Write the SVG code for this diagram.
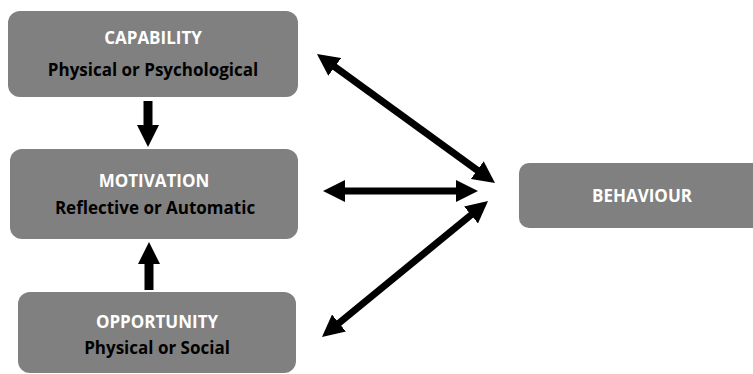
<svg xmlns="http://www.w3.org/2000/svg" width="753" height="374" viewBox="0 0 753 374">
<style>
.box{fill:#808080;}
.t{font-family:"Open Sans","Liberation Sans",sans-serif;font-weight:bold;font-size:17px;text-anchor:middle;}
.w{fill:#ffffff;}
.k{fill:#000000;}
.c line{stroke:#000;stroke-width:7;}
.c line.v{stroke-width:9;}
</style>
<defs>
<marker id="ah" viewBox="0 0 22 22" markerWidth="22" markerHeight="22" markerUnits="userSpaceOnUse" refX="8" refY="11" orient="auto-start-reverse">
<path d="M0,0 L22,11 L0,22 z" fill="#000"/>
</marker>
</defs>
<rect width="753" height="374" fill="#fff"/>
<g id="capability">
<rect class="box" x="8" y="11" width="290" height="86" rx="12"/>
<text class="t w" x="153" y="44">CAPABILITY</text>
<text class="t k" x="153" y="76">Physical or Psychological</text>
</g>
<g id="motivation">
<rect class="box" x="10" y="149" width="288" height="90" rx="12"/>
<text class="t w" x="154" y="187">MOTIVATION</text>
<text class="t k" x="155" y="214">Reflective or Automatic</text>
</g>
<g id="opportunity">
<rect class="box" x="18" y="292" width="278" height="81" rx="12"/>
<text class="t w" x="157" y="328">OPPORTUNITY</text>
<text class="t k" x="157" y="354">Physical or Social</text>
</g>
<g id="behaviour">
<rect class="box" x="519" y="163" width="250" height="65" rx="10"/>
<text class="t w" x="642" y="202">BEHAVIOUR</text>
</g>
<g id="connectors" class="c">
<line class="v" x1="148" y1="101" x2="148" y2="133" marker-end="url(#ah)"/>
<line class="v" x1="149" y1="290" x2="149" y2="256" marker-end="url(#ah)"/>
<line x1="328.3" y1="62.2" x2="483.7" y2="174.8" marker-start="url(#ah)" marker-end="url(#ah)"/>
<line x1="337" y1="191" x2="464" y2="191" marker-start="url(#ah)" marker-end="url(#ah)"/>
<line x1="477.2" y1="209.9" x2="332.8" y2="328.1" marker-start="url(#ah)" marker-end="url(#ah)"/>
</g>
</svg>
